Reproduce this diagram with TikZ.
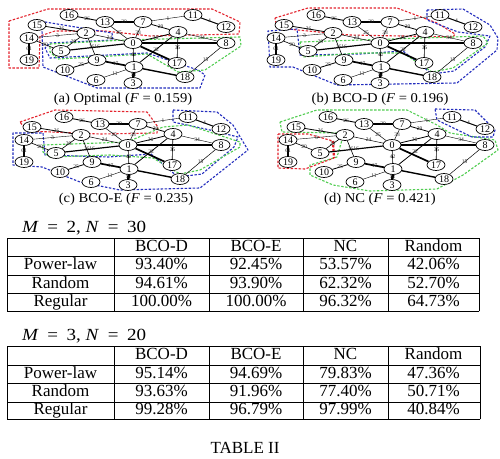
\documentclass[tikz,border=0pt]{standalone}
\usepackage{fontspec}
\setmainfont{Liberation Serif}
\newfontfamily\capfont[FakeStretch=1.08]{Liberation Serif}
\newfontfamily\lblfont[FakeStretch=1.12]{Liberation Serif}
\usetikzlibrary{shapes.geometric}
\definecolor{cred}{RGB}{228,35,45}
\definecolor{cblue}{RGB}{35,45,190}
\definecolor{cgreen}{RGB}{80,205,80}
\tikzset{
  gnode/.style={ellipse, draw, line width=0.7pt, fill=white, minimum width=18pt, minimum height=11pt, inner sep=0pt, font=\fontsize{10}{10}\selectfont},
  elab/.style={font=\fontsize{5.5}{5.5}\selectfont, inner sep=0.3pt, text=black!85},
  hull/.style={dash pattern=on 2.4pt off 1.6pt, line width=1.1pt, line join=round},
  hred/.style={hull, draw=cred},
  hblue/.style={hull, draw=cblue},
  hgreen/.style={hull, draw=cgreen},
  capnode/.style={font=\capfont\fontsize{13.5}{14}\selectfont, inner sep=0pt, anchor=base},
  tcell/.style={font=\fontsize{17}{17}\selectfont, inner sep=0pt, text height=12pt, text depth=3.5pt},
  tlabel/.style={font=\lblfont\fontsize{17}{17}\selectfont, inner sep=0pt, anchor=base west},
  tline/.style={line width=0.9pt, line cap=rect}
}
\newcommand\drawgraph[1]{%
  \foreach \n/\px/\py in {0/0/0,1/1/24,2/-47/-10,3/0/40,4/45/-11,5/-72/8,6/-37/37,7/10/-21,8/93/0,9/-36/17,10/-68/27,11/60/-28,12/93/-16,13/-28/-21,14/-104/-5,15/-96/-18,16/-64/-28,17/44/20,18/52/34,19/-104/17}
    {\node[gnode] (#1\n) at (\px,\py) {\n};}
  \foreach \u/\v/\ww/\lab in {16/13/0.9/26,13/7/1.7/20,13/0/0.5/25,7/0/0.5/33,7/4/0.8/29,7/11/0.4/1,11/12/1.0/4,4/8/0.4/34,0/8/1.7/{},0/4/0.8/26,0/17/1.7/{},0/1/0.6/42,2/0/0.5/24,5/0/1.2/16,4/17/0.6/35,4/1/0.8/22,1/9/1.7/17,1/18/1.4/{},1/3/2.6/52,1/6/0.4/11,9/10/0.8/25,2/9/0.6/16,8/18/0.5/15,14/19/2.6/61,14/5/0.6/20,14/2/0.4/3,15/2/0.8/36,5/2/0.6/29}
    {\draw[line width=\ww pt] (#1\u) -- node[elab] (#1e\u-\v) {\lab} (#1\v);}
}
\newcommand\mytabrow[7]{%
  \node[tcell] (#1a) at (60.5,#2) {#3};
  \node[tcell] (#1b) at (161.5,#2) {#4};
  \node[tcell] (#1c) at (256,#2) {#5};
  \node[tcell] (#1d) at (345.5,#2) {#6};
  \node[tcell] (#1e) at (433.5,#2) {#7};
}
\begin{document}
\begin{tikzpicture}[x=1pt,y=-1pt]
\fill[white] (0,0) rectangle (500,458);
\useasboundingbox (0,0) rectangle (500,458);

% ---------- panel (a) ----------
\begin{scope}[shift={(133,43)}]
  \draw[hred] (-124,-22) -- (-85,-34) -- (79,-34) -- (107,-21) -- (106,-9) -- (17,-7) -- (-28,-12) -- (-78,-12) -- (-93,-7) -- (-94,25) -- (-124,25) -- cycle;
  \draw[hblue] (-100,-23) -- (-21,-10) -- (-20,-3) -- (-83,0) -- (-88,5) -- (-83,15) -- (14,10) -- (65,27) -- (72,32) -- (67,45) -- (-36,45) -- (-90,24) -- (-91,-13) -- cycle;
  \draw[hgreen] (-83,1) -- (-8,-3) -- (107,-6) -- (108,3) -- (72,27) -- (45,29) -- (14,11) -- (-75,16) -- (-83,9) -- cycle;
  \drawgraph{a}
\end{scope}
\node[capnode] (capa) at (123,102.5) {(a) Optimal (\textit{F} = 0.159)};

% ---------- panel (b) ----------
\begin{scope}[shift={(380,43)}]
  \draw[hred] (-105,-25) -- (-72,-35) -- (17,-35) -- (57,-20) -- (75,-9) -- (73,-6) -- (-30,-8) -- (-103,-15) -- cycle;
  \draw[hblue] (47,-33) -- (83,-34) -- (110,-18) -- (118,-5) -- (117,7) -- (77,40) -- (-43,42) -- (-87,24) -- (-110,24) -- (-112,-12) -- (-83,-14) -- (-80,12) -- (-20,11) -- (23,8) -- (52,31) -- (74,28) -- (105,4) -- (110,-7) -- (78,-11) -- (47,-23) -- cycle;
  \draw[hgreen] (-80,-1) -- (103,-7) -- (108,0) -- (73,25) -- (52,29) -- (23,10) -- (-20,10) -- (-77,14) -- cycle;
  \drawgraph{b}
\end{scope}
\node[capnode] (capb) at (380,102.5) {(b) BCO-D (\textit{F} = 0.196)};

% ---------- panel (c) ----------
\begin{scope}[shift={(128,145)}]
  \draw[hred] (-108,-23) -- (-73,-35) -- (19,-33) -- (30,-18) -- (29,-12) -- (-28,-11) -- (-101,-14) -- cycle;
  \draw[hblue] (45,-35) -- (89,-33) -- (105,-20) -- (120,5) -- (72,43) -- (-8,45) -- (-48,37) -- (-86,22) -- (-115,20) -- (-115,-12) -- (-85,-12) -- (-83,10) -- (-20,12) -- (23,9) -- (50,32) -- (74,29) -- (106,2) -- (110,-8) -- (82,-15) -- (45,-23) -- cycle;
  \draw[hgreen] (-85,0) -- (-1,-3) -- (35,-18) -- (60,-20) -- (112,-3) -- (112,2) -- (72,25) -- (52,29) -- (25,13) -- (-18,10) -- (-78,12) -- (-85,7) -- cycle;
  \drawgraph{c}
\end{scope}
\node[capnode] (capc) at (126,202.5) {(c) BCO-E (\textit{F} = 0.235)};

% ---------- panel (d) ----------
\begin{scope}[shift={(392,145)}]
  \draw[hgreen] (-112,-23) -- (-75,-35) -- (15,-35) -- (45,-20) -- (58,-12) -- (103,-5) -- (106,5) -- (71,30) -- (45,44) -- (-22,46) -- (-59,40) -- (-82,30) -- (-82,20) -- (-55,12) -- (-50,-5) -- (-55,-12) -- (-110,-13) -- cycle;
  \draw[hred] (-114,-11) -- (-84,-11) -- (-59,-4) -- (-58,13) -- (-87,24) -- (-114,23) -- cycle;
  \draw[hred, line width=2.2pt] (-59,-4) -- (-58,13);
  \draw[hblue] (43,-36) -- (83,-35) -- (103,-15) -- (101,-8) -- (80,-8) -- (45,-25) -- cycle;
  \drawgraph{d}
\end{scope}
\node[capnode] (capd) at (380,202.5) {(d) NC (\textit{F} = 0.421)};

% ---------- table 1 ----------
\node[tlabel] (lab1) at (22,232) {\textit{M}\enspace=\enspace2, \textit{N}\enspace=\enspace30};
\foreach \yy in {238,256,275,293,311} {\draw[tline] (7,\yy) -- (479,\yy);}
\foreach \xx in {7,114,209,303,388,479} {\draw[tline] (\xx,238) -- (\xx,311);}
\mytabrow{ta0}{247}{}{BCO-D}{BCO-E}{NC}{Random}
\mytabrow{ta1}{265.5}{Power-law}{93.40\%}{92.45\%}{53.57\%}{42.06\%}
\mytabrow{ta2}{284}{Random}{94.61\%}{93.90\%}{62.32\%}{52.70\%}
\mytabrow{ta3}{302}{Regular}{100.00\%}{100.00\%}{96.32\%}{64.73\%}

% ---------- table 2 ----------
\node[tlabel] (lab2) at (22,340) {\textit{M}\enspace=\enspace3, \textit{N}\enspace=\enspace20};
\foreach \yy in {346,365,383,402,419} {\draw[tline] (7,\yy) -- (480,\yy);}
\foreach \xx in {7,114,209,303,388,480} {\draw[tline] (\xx,346) -- (\xx,419);}
\mytabrow{tb0}{355.5}{}{BCO-D}{BCO-E}{NC}{Random}
\mytabrow{tb1}{374}{Power-law}{95.14\%}{94.69\%}{79.83\%}{47.36\%}
\mytabrow{tb2}{392.5}{Random}{93.63\%}{91.96\%}{77.40\%}{50.71\%}
\mytabrow{tb3}{410.5}{Regular}{99.28\%}{96.79\%}{97.99\%}{40.84\%}

\node[font=\fontsize{17}{17}\selectfont, inner sep=0pt, anchor=base] (cap2) at (245,453) {TABLE II};
\end{tikzpicture}
\end{document}
